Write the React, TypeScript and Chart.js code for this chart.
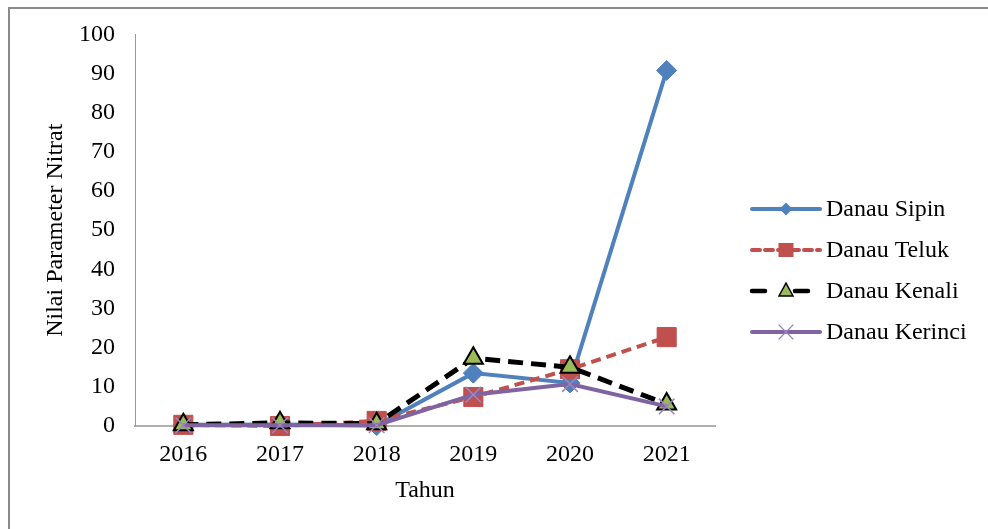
import React, { useEffect, useRef } from "react";
import { Chart, registerables } from "chart.js";

Chart.register(...registerables);

// Nitrate parameter per lake, 2016–2021
const years = ["2016", "2017", "2018", "2019", "2020", "2021"];
const sipin = [0.3, 0.4, 0.1, 13.5, 11.0, 90.8];
const teluk = [0.3, 0.0, 1.3, 7.4, 14.5, 22.7];
const kenali = [0.3, 0.8, 0.6, 17.3, 15.0, 5.6];
const kerinci = [0.2, 0.2, 0.2, 8.0, 10.7, 5.0];
const seriesNames = ["Danau Sipin", "Danau Teluk", "Danau Kenali", "Danau Kerinci"];
const yAxisTitle = "Nilai Parameter Nitrat";
const xAxisTitle = "Tahun";

const FONT = '"Liberation Serif", "Times New Roman", serif';
const BLUE = "#4F81BD";
const RED = "#C0504D";
const GREEN = "#9BBB59";
const PURPLE = "#8064A2";

type Marker = "diamond" | "square" | "triangle" | "cross";

const legendStyles: { color: string; dash: number[]; width: number; marker: Marker }[] = [
  { color: BLUE, dash: [], width: 4, marker: "diamond" },
  { color: RED, dash: [8, 5], width: 4, marker: "square" },
  { color: "#000000", dash: [13, 30], width: 4.5, marker: "triangle" },
  { color: PURPLE, dash: [], width: 4, marker: "cross" },
];

function drawMarker(ctx: CanvasRenderingContext2D, m: Marker, x: number, y: number) {
  ctx.save();
  ctx.setLineDash([]);
  ctx.beginPath();
  if (m === "diamond") {
    const r = 6.5;
    ctx.moveTo(x - r, y);
    ctx.lineTo(x, y - r);
    ctx.lineTo(x + r, y);
    ctx.lineTo(x, y + r);
    ctx.closePath();
    ctx.fillStyle = BLUE;
    ctx.fill();
  } else if (m === "square") {
    ctx.fillStyle = RED;
    ctx.fillRect(x - 7.5, y - 7, 15, 14);
  } else if (m === "triangle") {
    ctx.moveTo(x, y - 8);
    ctx.lineTo(x + 7, y + 5);
    ctx.lineTo(x - 7, y + 5);
    ctx.closePath();
    ctx.fillStyle = GREEN;
    ctx.fill();
    ctx.lineWidth = 1.5;
    ctx.strokeStyle = "#000";
    ctx.stroke();
  } else {
    ctx.moveTo(x - 7, y - 7);
    ctx.lineTo(x + 7, y + 7);
    ctx.moveTo(x + 7, y - 7);
    ctx.lineTo(x - 7, y + 7);
    ctx.lineWidth = 1.2;
    ctx.strokeStyle = "#9B86C2";
    ctx.stroke();
  }
  ctx.restore();
}

const framePlugin = {
  id: "frame",
  beforeDraw(chart: Chart) {
    const ctx = chart.ctx;
    ctx.save();
    ctx.fillStyle = "#ffffff";
    ctx.fillRect(0, 0, chart.width, chart.height);
    ctx.strokeStyle = "#8a8a8a";
    ctx.lineWidth = 2;
    ctx.beginPath();
    ctx.moveTo(9, chart.height);
    ctx.lineTo(9, 8);
    ctx.lineTo(chart.width, 8);
    ctx.stroke();
    ctx.restore();
  },
};

const sideLegendPlugin = {
  id: "sideLegend",
  afterDraw(chart: Chart) {
    const ctx = chart.ctx;
    const x0 = 752;
    const x1 = 820;
    const mx = 786;
    const tx = 826;
    const rowY = [209, 250, 291, 332];
    ctx.save();
    seriesNames.forEach((name, i) => {
      const s = legendStyles[i];
      const y = rowY[i];
      ctx.beginPath();
      ctx.setLineDash(s.dash);
      ctx.lineWidth = s.width;
      ctx.strokeStyle = s.color;
      ctx.lineCap = "round";
      ctx.moveTo(x0, y);
      ctx.lineTo(x1, y);
      ctx.stroke();
      drawMarker(ctx, s.marker, mx, y);
      ctx.setLineDash([]);
      ctx.fillStyle = "#000";
      ctx.font = `24px ${FONT}`;
      ctx.textAlign = "left";
      ctx.textBaseline = "middle";
      ctx.fillText(name, tx, y + 1);
    });
    ctx.restore();
  },
};

export default function App() {
  const canvasRef = useRef<HTMLCanvasElement | null>(null);

  useEffect(() => {
    if (!canvasRef.current) return;
    const chart = new Chart(canvasRef.current, {
      type: "line",
      data: {
        labels: years,
        datasets: [
          {
            label: seriesNames[0],
            data: sipin,
            borderColor: BLUE,
            backgroundColor: BLUE,
            borderWidth: 4,
            pointStyle: "rectRot",
            pointRadius: 10,
            pointBackgroundColor: BLUE,
            pointBorderColor: BLUE,
            pointBorderWidth: 1,
            tension: 0,
            clip: false,
            order: 3,
          },
          {
            label: seriesNames[1],
            data: teluk,
            borderColor: RED,
            backgroundColor: RED,
            borderWidth: 4,
            borderDash: [10, 6],
            pointStyle: "rect",
            pointRadius: 13.5,
            pointBackgroundColor: RED,
            pointBorderColor: RED,
            pointBorderWidth: 1,
            tension: 0,
            clip: false,
            order: 2,
          },
          {
            label: seriesNames[2],
            data: kenali,
            borderColor: "#000000",
            backgroundColor: GREEN,
            borderWidth: 5,
            borderDash: [15, 8],
            pointStyle: "triangle",
            pointRadius: 11,
            pointBackgroundColor: GREEN,
            pointBorderColor: "#000000",
            pointBorderWidth: 2,
            tension: 0,
            clip: false,
            order: 1,
          },
          {
            label: seriesNames[3],
            data: kerinci,
            borderColor: PURPLE,
            backgroundColor: PURPLE,
            borderWidth: 4,
            pointStyle: "crossRot",
            pointRadius: 11,
            pointBorderColor: "#9B86C2",
            pointBorderWidth: 1.5,
            tension: 0,
            clip: false,
            order: 0,
          },
        ],
      },
      options: {
        responsive: false,
        animation: false,
        events: [],
        layout: { padding: { left: 20, top: 34, right: 273, bottom: 0 } },
        plugins: {
          legend: { display: false },
          tooltip: { enabled: false },
        },
        scales: {
          x: {
            type: "category",
            offset: true,
            grid: { display: false, drawTicks: false },
            border: { display: true, color: "#b0b0b0", width: 2 },
            ticks: { color: "#000", font: { family: FONT, size: 24 }, padding: 14, maxRotation: 0 },
            title: {
              display: true,
              text: xAxisTitle,
              color: "#000",
              font: { family: FONT, size: 24 },
              padding: { top: 0, bottom: 24 },
            },
            afterFit: (s: any) => {
              s.height = 103;
            },
          },
          y: {
            min: 0,
            max: 100,
            grid: { display: false, drawTicks: false },
            border: { display: true, color: "#9a9a9a", width: 1 },
            ticks: { stepSize: 10, color: "#000", font: { family: FONT, size: 24 }, padding: 20 },
            title: {
              display: true,
              text: yAxisTitle,
              color: "#000",
              font: { family: FONT, size: 24 },
              padding: { top: 21, bottom: 0 },
            },
            afterFit: (s: any) => {
              s.width = 115;
            },
          },
        },
      },
      plugins: [framePlugin, sideLegendPlugin],
    });
    return () => chart.destroy();
  }, []);

  return (
    <div style={{ position: "absolute", left: 0, top: 0, width: 988, height: 529 }}>
      <canvas ref={canvasRef} width={988} height={529} style={{ display: "block" }} />
    </div>
  );
}
